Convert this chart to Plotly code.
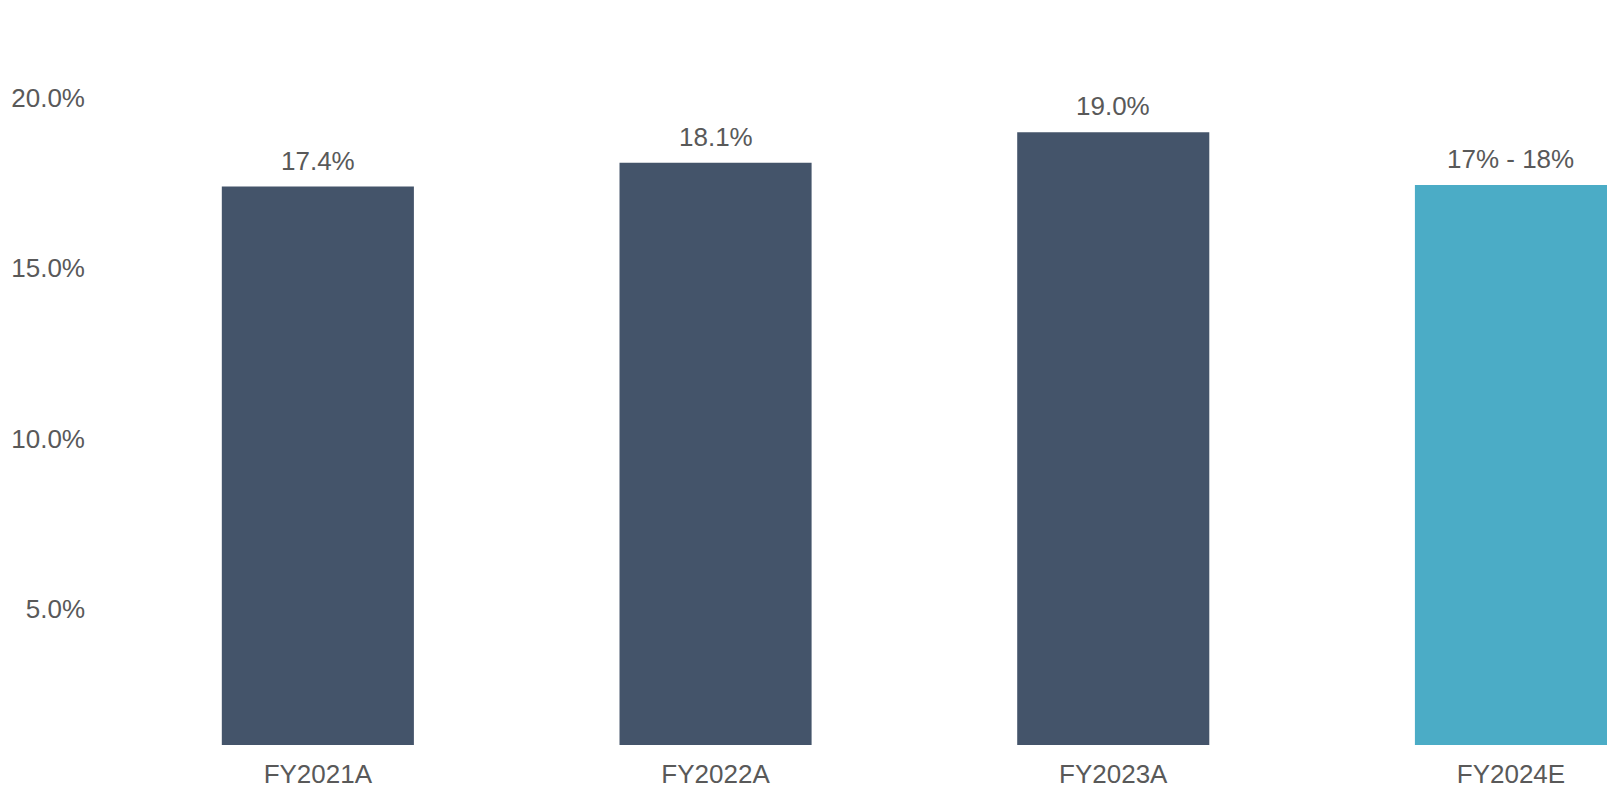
import plotly.graph_objects as go

categories = ["FY2021A", "FY2022A", "FY2023A", "FY2024E"]
values = [17.4, 18.1, 19.0, 17.45]
labels = ["17.4%", "18.1%", "19.0%", "17% - 18%"]
colors = ["#44546A", "#44546A", "#44546A", "#4BACC6"]
y_ticks = [5, 10, 15, 20]
y_tick_labels = ["5.0%", "10.0%", "15.0%", "20.0%"]

FONT = "Liberation Sans, Arial, sans-serif"
TXT = "#595959"

fig = go.Figure()
fig.add_trace(go.Bar(
    x=categories, y=values, marker=dict(color=colors, line=dict(width=0)),
    width=0.483, base=0, hoverinfo="skip",
))

for c, v, t in zip(categories, values, labels):
    fig.add_annotation(x=c, y=v, text=t, showarrow=False, yanchor="bottom",
                       yshift=9, font=dict(family=FONT, size=26, color=TXT))

fig.update_layout(
    width=1616, height=789,
    margin=dict(l=119, r=9, t=30, b=44, autoexpand=False),
    paper_bgcolor="white", plot_bgcolor="white",
    showlegend=False,
    font=dict(family=FONT, size=26, color=TXT),
    xaxis=dict(range=[-0.5, 3.2415], showgrid=False, zeroline=False, showline=False,
               automargin=False, ticks="", ticklabelstandoff=11,
               tickfont=dict(family=FONT, size=26, color=TXT)),
    yaxis=dict(range=[1, 22], tickvals=y_ticks, ticktext=y_tick_labels,
               showgrid=False, zeroline=False, showline=False, ticks="",
               automargin=False, ticklabelstandoff=33,
               tickfont=dict(family=FONT, size=26, color=TXT)),
)

fig.write_html(
    "out.html",
    config={"displayModeBar": False},
    post_script="document.body.style.margin='0';document.body.style.overflow='hidden';",
)
